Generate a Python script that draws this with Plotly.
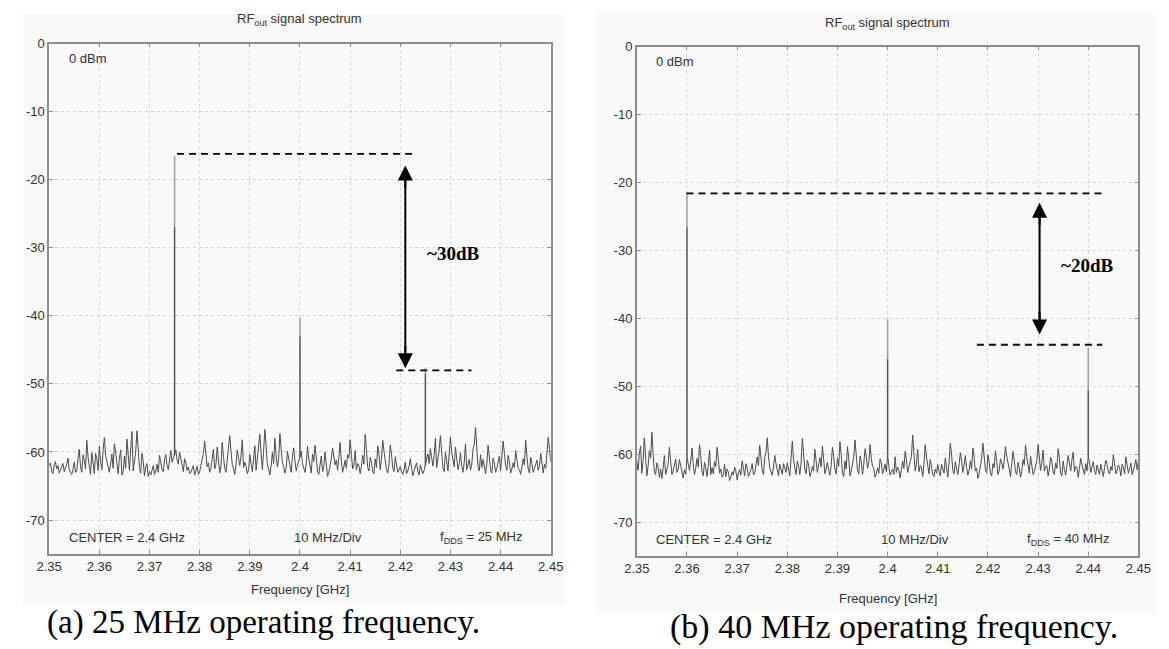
import numpy as np
import plotly.graph_objects as go

# ---------------- data ----------------
f_start, f_stop = 2.35, 2.45
x_tick_vals = [2.35, 2.36, 2.37, 2.38, 2.39, 2.40, 2.41, 2.42, 2.43, 2.44, 2.45]
x_tick_text = ["2.35", "2.36", "2.37", "2.38", "2.39", "2.4", "2.41", "2.42", "2.43", "2.44", "2.45"]
y_tick_vals = [0, -10, -20, -30, -40, -50, -60, -70]
y_tick_text = ["0", "-10", "-20", "-30", "-40", "-50", "-60", "-70"]

# noise floor: samples on the 0.5 MHz grid ...
noise_a_even = [
    -62.0, -62.8, -61.9, -62.5, -63.1, -62.2, -62.9, -61.8, -62.6, -63.3,
    -61.5, -62.8, -59.6, -63.0, -61.2, -58.3, -62.4, -60.1, -63.2, -61.0,
    -59.2, -62.6, -57.9, -61.4, -63.0, -60.3, -58.8, -62.1, -61.0, -63.4,
    -60.6, -58.1, -62.7, -57.0, -61.5, -56.9, -62.3, -60.2, -63.5, -61.7,
    -62.9, -62.4, -63.3, -61.8, -60.5, -62.6, -61.1, -62.0, -60.8, -61.5,
    -60.5, -61.2, -60.0, -62.4, -61.0, -62.7, -63.2, -62.5, -63.4, -62.1,
    -62.9, -61.3, -58.4, -62.2, -63.0, -60.7, -62.5, -59.3, -63.1, -58.6,
    -62.4, -60.9, -57.6, -61.8, -63.3, -59.7, -62.0, -58.2, -61.5, -63.2,
    -60.4, -62.9, -59.1, -61.2, -57.4, -62.6, -56.7, -61.9, -63.4, -60.1,
    -58.0, -62.2, -57.3, -61.6, -63.1, -59.9, -62.4, -60.6, -61.3, -62.0,
    -60.8, -61.7, -63.0, -59.2, -62.5, -60.3, -59.0, -62.8, -61.4, -62.9,
    -60.0, -63.6, -62.1, -59.4, -61.9, -62.7, -58.6, -63.0, -61.2, -60.4,
    -58.2, -62.5, -59.8, -61.7, -63.2, -60.5, -57.4, -62.3, -60.8, -62.9,
    -61.0, -59.1, -62.6, -58.3, -61.8, -63.1, -59.0, -62.4, -60.7, -63.0,
    -62.2, -63.3, -61.5, -62.8, -61.0, -63.5, -62.0, -62.9, -61.9, -63.2,
    -62.0, -60.3, -59.5, -62.1, -58.0, -61.2, -57.6, -62.4, -60.0, -62.8,
    -57.8, -61.5, -59.3, -62.6, -60.1, -63.0, -58.8, -61.9, -62.7, -59.6,
    -56.4, -62.2, -60.4, -61.1, -63.2, -59.0, -62.6, -60.9, -63.0, -61.5,
    -62.8, -58.4, -62.0, -60.5, -63.1, -61.6, -59.8, -62.4, -63.3, -61.0,
    -58.3, -62.5, -60.8, -63.0, -61.9, -62.7, -60.2, -63.1, -62.4, -57.8,
    -61.5,
]
# ... and the samples that lie between them (0.25 MHz offset)
noise_a_odd = [
    -61.6, -63.2, -61.4, -62.0, -62.7, -61.7, -62.4, -60.9, -63.0, -62.6,
    -63.0, -61.0, -62.2, -60.4, -62.5, -60.8, -63.3, -61.6, -60.2, -62.7,
    -61.3, -59.8, -60.5, -62.2, -61.8, -62.4, -60.0, -63.2, -59.7, -62.9,
    -62.4, -60.3, -59.5, -62.8, -60.0, -59.4, -63.1, -61.4, -62.2, -63.6,
    -63.4, -62.0, -62.8, -63.0, -61.3, -62.9, -60.4, -62.6, -59.8, -61.0,
    -59.7, -61.8, -61.2, -62.9, -61.6, -62.2, -63.0, -62.0, -62.8, -63.3,
    -62.0, -60.2, -61.0, -61.6, -62.4, -59.6, -61.8, -61.5, -62.0, -60.7,
    -63.0, -59.4, -59.9, -62.5, -61.9, -60.8, -60.6, -62.3, -62.1, -62.6,
    -61.8, -61.1, -62.7, -59.8, -60.2, -59.9, -59.0, -62.5, -62.0, -61.7,
    -60.6, -60.9, -59.6, -62.2, -62.4, -61.0, -63.0, -59.4, -62.8, -61.4,
    -59.9, -62.4, -61.7, -61.0, -63.1, -61.4, -61.2, -63.3, -60.6, -62.1,
    -62.0, -63.0, -61.0, -60.6, -61.2, -60.9, -61.3, -62.2, -62.4, -60.9,
    -60.4, -61.9, -62.6, -62.0, -62.1, -61.8, -59.6, -62.8, -61.5, -63.2,
    -62.3, -60.4, -60.9, -59.9, -62.6, -61.7, -60.3, -62.9, -61.9, -62.6,
    -62.9, -62.6, -63.2, -62.1, -62.4, -62.8, -61.6, -63.4, -62.5, -62.7,
    -61.4, -61.7, -60.8, -60.5, -62.3, -59.7, -60.5, -62.9, -61.3, -60.2,
    -60.1, -62.2, -61.0, -61.7, -62.1, -61.5, -62.6, -61.1, -61.8, -58.9,
    -59.8, -62.8, -62.3, -62.0, -61.8, -60.7, -63.1, -61.6, -62.4, -60.6,
    -60.9, -60.1, -62.7, -61.4, -62.5, -62.3, -61.1, -62.6, -62.2, -61.9,
    -60.7, -63.1, -61.7, -62.4, -61.2, -62.1, -61.6, -61.8, -60.0, -59.6,
]
noise_b_even = [
    -61.0, -60.0, -62.8, -57.6, -63.2, -59.5, -56.8, -62.6, -61.3, -63.4,
    -63.6, -60.2, -62.1, -59.0, -63.0, -61.4, -62.7, -60.8, -63.1, -62.3,
    -60.5, -62.4, -59.1, -63.0, -60.6, -58.6, -62.5, -61.2, -63.3, -59.4,
    -62.0, -61.1, -59.0, -62.8, -63.4, -61.5, -62.2, -63.9, -62.6, -61.9,
    -63.8, -62.3, -61.0, -63.2, -62.0, -62.8, -61.4, -62.9, -60.4, -58.7,
    -62.4, -60.5, -57.6, -62.0, -63.1, -60.2, -62.6, -61.5, -63.0, -62.1,
    -61.3, -63.2, -58.1, -62.4, -61.0, -63.0, -57.7, -62.2, -60.9, -63.3,
    -61.8, -59.3, -62.7, -60.5, -58.8, -62.9, -61.2, -63.1, -59.0, -62.3,
    -60.6, -58.2, -62.8, -61.0, -58.9, -63.2, -61.6, -57.9, -62.4, -60.3,
    -63.0, -59.2, -62.1, -58.6, -61.8, -63.4, -62.0, -60.7, -62.9, -61.5,
    -60.0, -63.1, -62.2, -60.4, -61.9, -63.5, -61.0, -59.6, -62.7, -60.9,
    -57.2, -62.5, -59.3, -61.7, -63.3, -58.6, -62.1, -60.8, -63.0, -62.2,
    -61.5, -63.2, -62.0, -60.6, -63.4, -58.4, -62.4, -61.1, -63.0, -59.8,
    -62.7, -60.2, -63.1, -61.0, -59.1, -62.5, -63.6, -61.8, -58.4, -62.3,
    -60.1, -62.9, -61.4, -59.5, -63.0, -60.7, -62.2, -58.9, -61.6, -63.3,
    -59.6, -62.6, -61.2, -63.4, -60.8, -58.7, -62.1, -60.3, -63.0, -61.7,
    -58.6, -62.4, -59.4, -61.9, -63.2, -60.5, -62.7, -61.3, -59.2, -62.8,
    -61.0, -63.1, -60.2, -62.5, -59.7, -61.8, -63.4, -60.6, -62.2, -61.4,
    -60.3, -62.7, -61.1, -63.0, -62.2, -61.5, -63.3, -60.9, -62.6, -61.8,
    -60.1, -62.9, -61.6, -63.2, -62.0, -60.4, -62.8, -61.3, -62.5, -60.8,
    -61.0,
]
noise_b_odd = [
    -62.4, -58.8, -61.0, -60.4, -61.8, -60.6, -60.0, -63.0, -61.9, -62.2,
    -62.0, -63.0, -61.5, -61.2, -62.5, -60.7, -62.2, -61.8, -63.5, -62.9,
    -61.3, -61.0, -61.6, -62.1, -61.9, -60.2, -63.2, -62.0, -61.7, -63.0,
    -62.9, -61.8, -60.6, -62.2, -63.0, -63.3, -62.6, -63.4, -63.1, -62.5,
    -62.9, -63.1, -62.1, -61.4, -63.3, -62.3, -63.0, -61.8, -61.7, -60.5,
    -63.0, -59.8, -60.3, -62.6, -61.9, -61.4, -63.2, -62.2, -61.4, -62.7,
    -62.1, -60.6, -60.9, -63.0, -61.7, -61.3, -59.9, -62.9, -61.6, -62.8,
    -62.5, -61.0, -61.6, -61.9, -60.7, -62.2, -62.4, -61.7, -60.4, -62.9,
    -61.8, -60.1, -63.3, -62.2, -60.6, -62.5, -60.4, -59.7, -62.9, -61.1,
    -61.5, -60.4, -61.2, -60.7, -62.1, -62.9, -62.8, -61.3, -62.2, -62.6,
    -61.8, -62.6, -63.0, -62.7, -62.3, -62.4, -62.1, -60.8, -61.9, -60.3,
    -60.2, -61.4, -62.6, -62.0, -61.5, -60.4, -62.9, -61.9, -63.3, -62.8,
    -62.6, -61.5, -62.8, -61.9, -61.2, -60.0, -62.9, -62.2, -61.6, -61.0,
    -61.6, -62.0, -62.4, -62.2, -60.5, -62.1, -62.9, -60.6, -60.9, -62.8,
    -61.2, -63.2, -62.0, -61.1, -62.4, -61.3, -61.0, -60.3, -62.2, -61.5,
    -60.9, -63.0, -62.0, -62.5, -61.6, -60.4, -62.8, -61.5, -62.6, -61.0,
    -60.3, -61.2, -62.5, -61.7, -62.2, -61.1, -63.0, -62.1, -60.6, -63.2,
    -62.3, -61.7, -61.3, -60.8, -62.6, -62.0, -62.1, -61.6, -63.0, -62.5,
    -61.2, -62.0, -62.4, -61.6, -63.0, -62.2, -62.0, -61.5, -62.9, -62.4,
    -61.4, -62.4, -62.0, -61.5, -62.9, -61.6, -62.1, -63.0, -61.7, -62.3,
]

# spectral lines: frequency [GHz], peak level [dBm], level where the line turns dark
peaks_a_freq = [2.375, 2.400, 2.425]
peaks_a_level = [-16.5, -40.3, -47.6]
peaks_a_dark = [-27.0, -43.0, -48.5]
peaks_b_freq = [2.360, 2.400, 2.440]
peaks_b_level = [-21.5, -40.2, -44.4]
peaks_b_dark = [-26.6, -46.0, -50.6]

# annotation levels (dashed reference lines) and labels
ref_a = {"top": -16.2, "bottom": -48.0, "top_x": (2.3755, 2.423), "bot_x": (2.4192, 2.4342),
         "arrow_x": 2.421, "arrow_top": -17.9, "arrow_bot": -47.7, "label": "~30dB",
         "label_x": 2.4305, "label_y": -30.8}
ref_b = {"top": -21.6, "bottom": -43.9, "top_x": (2.3599, 2.4434), "bot_x": (2.4178, 2.4428),
         "arrow_x": 2.4303, "arrow_top": -23.0, "arrow_bot": -42.4, "label": "~20dB",
         "label_x": 2.4397, "label_y": -32.3}

titles = ["RF<sub>out</sub> signal spectrum", "RF<sub>out</sub> signal spectrum"]
fdds_text = ["f<sub>DDS</sub> = 25 MHz", "f<sub>DDS</sub> = 40 MHz"]
captions = ["(a) 25 MHz operating frequency.", "(b) 40 MHz operating frequency."]


def interleave(even, odd):
    out = []
    for e, o in zip(even, odd):
        out += [e, o]
    out.append(even[-1])
    return out


noise_a = interleave(noise_a_even, noise_a_odd)
noise_b = interleave(noise_b_even, noise_b_odd)

# ---------------- figure ----------------
W, H = 1169, 649
n = len(noise_a)
step = (f_stop - f_start) / (n - 1)
freq = np.round(np.linspace(f_start, f_stop, n), 5)

fig = go.Figure()

SANS = "Liberation Sans, Arial, sans-serif"
SERIF = "Liberation Serif, Times New Roman, serif"
TXT = "#333333"

panels = [
    dict(noise=noise_a, pf=peaks_a_freq, pl=peaks_a_level, pd=peaks_a_dark, ref=ref_a,
         xa="x", ya="y", xdom=(37, 550), ydom=(37, 553), title_y=13, xlab_y=589),
    dict(noise=noise_b, pf=peaks_b_freq, pl=peaks_b_level, pd=peaks_b_dark, ref=ref_b,
         xa="x2", ya="y2", xdom=(638, 1151), ydom=(40, 555), title_y=17, xlab_y=598),
]

layout_axes = {}
annotations = []
shapes = []
for k, p in enumerate(panels):
    xa, ya = p["xa"], p["ya"]
    fig.add_trace(go.Scatter(x=freq, y=p["noise"], mode="lines", xaxis=xa, yaxis=ya,
                             line=dict(color="#4d4d4d", width=1), hoverinfo="skip",
                             showlegend=False))
    for f, lvl, dk in zip(p["pf"], p["pl"], p["pd"]):
        base = p["noise"][int(round((f - f_start) / step))]
        fig.add_trace(go.Scatter(x=[f, f], y=[lvl, dk], mode="lines", xaxis=xa, yaxis=ya,
                                 line=dict(color="#a0a0a0", width=1.5), showlegend=False,
                                 hoverinfo="skip"))
        fig.add_trace(go.Scatter(x=[f, f], y=[dk, base], mode="lines", xaxis=xa, yaxis=ya,
                                 line=dict(color="#555555", width=1.5), showlegend=False,
                                 hoverinfo="skip"))

    sfx = "" if k == 0 else "2"
    x0, x1 = p["xdom"]
    yt, yb = p["ydom"]
    common = dict(showline=True, mirror="ticks", linecolor="#8c8c8c", linewidth=1.6,
                  ticks="inside", ticklen=4, tickcolor="#8c8c8c",
                  showgrid=True, gridcolor="#d6d6d6", griddash="dot", gridwidth=1,
                  zeroline=False, tickfont=dict(family=SANS, size=13, color=TXT))
    layout_axes["xaxis" + sfx] = dict(domain=[x0 / W, x1 / W], range=[f_start, f_stop],
                                      tickvals=x_tick_vals, ticktext=x_tick_text,
                                      anchor=ya, **common)
    layout_axes["yaxis" + sfx] = dict(domain=[1 - yb / H, 1 - yt / H], range=[-75, 0],
                                      tickvals=y_tick_vals, ticktext=y_tick_text,
                                      anchor=xa, **common)

    xref, yref = xa, ya
    r = p["ref"]
    shapes.append(dict(type="line", xref=xref, yref=yref, x0=r["top_x"][0], x1=r["top_x"][1],
                       y0=r["top"], y1=r["top"], line=dict(color="black", width=1.8, dash="7px,5px")))
    shapes.append(dict(type="line", xref=xref, yref=yref, x0=r["bot_x"][0], x1=r["bot_x"][1],
                       y0=r["bottom"], y1=r["bottom"], line=dict(color="black", width=1.8, dash="7px,5px")))
    # double arrow: shaft + two heads
    shapes.append(dict(type="line", xref=xref, yref=yref, x0=r["arrow_x"], x1=r["arrow_x"],
                       y0=r["arrow_top"] - 2, y1=r["arrow_bot"] + 2, line=dict(color="black", width=2)))
    for tip, off in ((r["arrow_top"], 24), (r["arrow_bot"], -24)):
        annotations.append(dict(x=r["arrow_x"], y=tip, ax=0, ay=off, xref=xref, yref=yref,
                                showarrow=True, arrowhead=2, arrowsize=1.5,
                                arrowwidth=2, arrowcolor="black", text=""))
    annotations.append(dict(x=r["label_x"], y=r["label_y"], xref=xref, yref=yref,
                            text="<b>" + r["label"] + "</b>", showarrow=False,
                            font=dict(family=SERIF, size=19, color="black")))

    annotations.append(dict(x=2.3535, y=-2.2, xref=xref, yref=yref, text="0 dBm", showarrow=False,
                            xanchor="left", font=dict(family=SANS, size=13, color=TXT)))
    annotations.append(dict(x=2.3535, y=-72.5, xref=xref, yref=yref, text="CENTER = 2.4 GHz",
                            showarrow=False, xanchor="left", font=dict(family=SANS, size=13, color=TXT)))
    annotations.append(dict(x=2.4055, y=-72.5, xref=xref, yref=yref, text="10 MHz/Div",
                            showarrow=False, font=dict(family=SANS, size=13, color=TXT)))
    annotations.append(dict(x=2.436, y=-72.5, xref=xref, yref=yref, text=fdds_text[k],
                            showarrow=False, font=dict(family=SANS, size=13, color=TXT)))

    cx = (x0 + x1) / 2 / W
    annotations.append(dict(x=cx, y=1 - p["title_y"] / H, xref="paper", yref="paper", text=titles[k],
                            showarrow=False, xanchor="center", yanchor="middle",
                            font=dict(family=SANS, size=13, color=TXT)))
    annotations.append(dict(x=cx, y=1 - p["xlab_y"] / H, xref="paper", yref="paper",
                            text="Frequency [GHz]", showarrow=False, xanchor="center", yanchor="middle",
                            font=dict(family=SANS, size=13, color=TXT)))

annotations.append(dict(x=256 / W, y=1 - 622 / H, xref="paper", yref="paper", text=captions[0],
                        showarrow=False, xanchor="center", yanchor="middle",
                        font=dict(family=SERIF, size=33, color="black")))
annotations.append(dict(x=901 / W, y=1 - 627 / H, xref="paper", yref="paper", text=captions[1],
                        showarrow=False, xanchor="center", yanchor="middle",
                        font=dict(family=SERIF, size=34, color="black")))

shapes.insert(0, dict(type="rect", xref="paper", yref="paper", x0=10 / W, x1=566 / W,
                      y0=1 - 605 / H, y1=1 - 7 / H, fillcolor="#f9f9f9", line=dict(width=0),
                      layer="below"))
shapes.insert(0, dict(type="rect", xref="paper", yref="paper", x0=598 / W, x1=1169 / W,
                      y0=1 - 612 / H, y1=1 - 5 / H, fillcolor="#f9f9f9", line=dict(width=0),
                      layer="below"))

fig.update_layout(width=W, height=H, margin=dict(l=0, r=0, t=0, b=0),
                  paper_bgcolor="white", plot_bgcolor="white", showlegend=False,
                  annotations=annotations, shapes=shapes, **layout_axes)

fig.write_html("out.html")
